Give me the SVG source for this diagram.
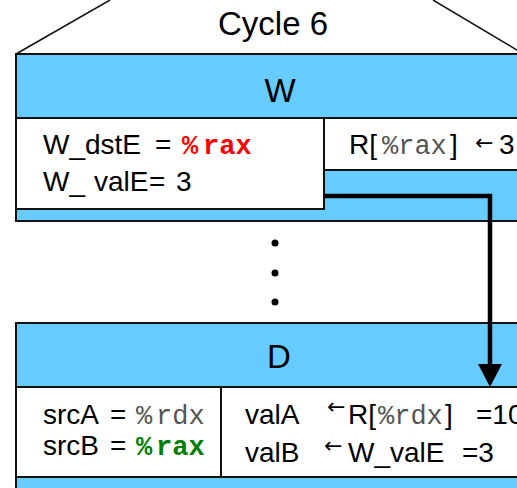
<svg xmlns="http://www.w3.org/2000/svg" width="517" height="488" viewBox="0 0 517 488">
<style>
.blue{fill:#66CCFF;stroke:#111;stroke-width:2}
.white{fill:#fff;stroke:#111;stroke-width:2}
.sans{font-family:"Liberation Sans",Arial,sans-serif;fill:#000}
.title{font-size:33px}
.body{font-size:28px}
.mono{font-family:"Liberation Mono","Courier New",monospace;font-size:27px}
.mbold{font-weight:bold}
.red{fill:#FF0000}
.green{fill:#008000}
.gray{fill:#555}
.arr{font-family:"DejaVu Sans",sans-serif;font-size:22px;fill:#000}
.conn{fill:none;stroke:#000;stroke-width:4.5}
</style>
<defs>
<marker id="ah" markerUnits="userSpaceOnUse" viewBox="0 0 23 24" refX="0" refY="12" markerWidth="23" markerHeight="24" orient="auto">
<path d="M0,0 L23,12 L0,24 Z" fill="#000"/>
</marker>
</defs>
<rect width="517" height="488" fill="#fff"/>
<g id="cycle-frame">
<line x1="16" y1="54" x2="110" y2="0" stroke="#111" stroke-width="1.5"/>
<line x1="433" y1="0" x2="517" y2="50" stroke="#111" stroke-width="1.5"/>
<text class="sans title" x="273" y="35" text-anchor="middle">Cycle 6</text>
</g>
<g id="stage-W">
<rect class="blue" x="16" y="54" width="510" height="167"/>
<rect class="white" x="324" y="118" width="200" height="52"/>
<rect class="white" x="16" y="118" width="308" height="91"/>
<text class="sans title" x="280" y="102" text-anchor="middle">W</text>
<text class="sans body" y="154"><tspan x="43">W_dstE</tspan><tspan x="155">=</tspan></text>
<text class="mono mbold red" y="154"><tspan x="182">%</tspan><tspan x="203">rax</tspan></text>
<text class="sans body" y="191"><tspan x="43">W_</tspan><tspan x="94">valE</tspan><tspan x="149">=</tspan><tspan x="176">3</tspan></text>
<text class="sans body" x="349" y="154">R[</text>
<text class="mono gray" x="382" y="154">%rax</text>
<text class="sans body" x="450" y="154">]</text>
<text class="arr" x="475" y="150">←</text>
<text class="sans body" x="499" y="154">3</text>
</g>
<g id="ellipsis">
<circle cx="275" cy="243" r="3.5" fill="#000"/>
<circle cx="275" cy="273" r="3.5" fill="#000"/>
<circle cx="275" cy="302" r="3.5" fill="#000"/>
</g>
<g id="stage-D">
<rect class="blue" x="16" y="323" width="510" height="175"/>
<rect class="white" x="16" y="387" width="205" height="90"/>
<rect class="white" x="221" y="387" width="300" height="90"/>
<text class="sans title" x="279" y="368" text-anchor="middle">D</text>
<text class="sans body" y="424"><tspan x="43">srcA</tspan><tspan x="110">=</tspan></text>
<text class="mono gray" y="424"><tspan x="136">%</tspan><tspan x="156">rdx</tspan></text>
<text class="sans body" y="455"><tspan x="43">srcB</tspan><tspan x="110">=</tspan></text>
<text class="mono mbold green" y="455"><tspan x="136">%</tspan><tspan x="156">rax</tspan></text>
<text class="sans body" x="245" y="424">valA</text>
<text class="arr" x="327" y="414">←</text>
<text class="sans body" x="348" y="424">R[</text>
<text class="mono gray" x="378" y="424">%rdx</text>
<text class="sans body" y="424"><tspan x="445">]</tspan><tspan x="476">=10</tspan></text>
<text class="sans body" x="245" y="462">valB</text>
<text class="arr" x="324" y="453">←</text>
<text class="sans body" y="462"><tspan x="348">W_valE</tspan><tspan x="462">=3</tspan></text>
</g>
<g id="connectors">
<path class="conn" d="M324,196 H490 V364" marker-end="url(#ah)"/>
</g>
</svg>
